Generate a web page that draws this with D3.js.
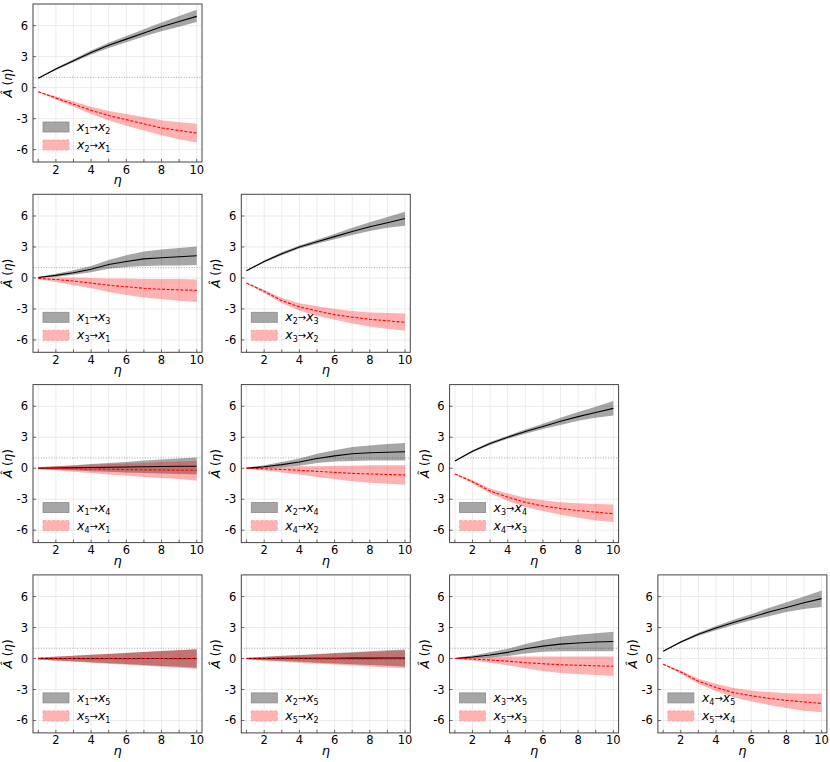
<!DOCTYPE html>
<html>
<head>
<meta charset="utf-8">
<script src="https://cdn.jsdelivr.net/npm/d3@7"></script>
<style>
  body { margin: 0; background: #fff; }
  text { font-family: "DejaVu Sans", sans-serif; }
</style>
</head>
<body>
<svg id="chart" width="830" height="762"></svg>
<script>
const etas = [1, 2, 3, 4, 5, 6, 7, 8, 9, 10];
const xTicks = [2, 4, 6, 8, 10];
const yTicks = [-6, -3, 0, 3, 6];
const yTickLabels = ["-6", "-3", "0", "3", "6"];

// panel x1-x2
const a12 = [0.9, 1.8, 2.6, 3.4, 4.1, 4.7, 5.3, 5.9, 6.4, 6.9];
const a12lo = [0.85, 1.7, 2.45, 3.2, 3.85, 4.4, 4.95, 5.45, 5.9, 6.35];
const a12hi = [0.95, 1.9, 2.75, 3.6, 4.35, 5.0, 5.65, 6.3, 6.95, 7.55];
const a21 = [-0.4, -1.0, -1.6, -2.2, -2.7, -3.1, -3.5, -3.9, -4.15, -4.4];
const a21lo = [-0.45, -1.15, -1.85, -2.55, -3.15, -3.7, -4.15, -4.6, -5.0, -5.3];
const a21hi = [-0.35, -0.85, -1.35, -1.85, -2.25, -2.55, -2.85, -3.15, -3.35, -3.5];

// panel x1-x3
const a13 = [0.05, 0.25, 0.5, 0.85, 1.3, 1.6, 1.85, 1.95, 2.05, 2.15];
const a13lo = [0, 0.1, 0.3, 0.55, 0.9, 1.05, 1.15, 1.2, 1.2, 1.25];
const a13hi = [0.1, 0.4, 0.75, 1.15, 1.75, 2.2, 2.55, 2.75, 2.9, 3.05];
const a31 = [-0.05, -0.15, -0.3, -0.5, -0.7, -0.85, -1.0, -1.1, -1.15, -1.2];
const a31lo = [-0.1, -0.4, -0.7, -1.0, -1.35, -1.65, -1.9, -2.05, -2.2, -2.3];
const a31hi = [0, 0.05, 0.05, 0, -0.05, -0.05, -0.1, -0.1, -0.1, -0.15];

// panel x2-x3
const a23 = [0.7, 1.6, 2.35, 3.0, 3.5, 4.0, 4.5, 4.95, 5.35, 5.75];
const a23lo = [0.65, 1.5, 2.2, 2.85, 3.3, 3.75, 4.15, 4.55, 4.85, 5.05];
const a23hi = [0.75, 1.7, 2.5, 3.15, 3.7, 4.25, 4.85, 5.4, 5.9, 6.4];
const a32 = [-0.5, -1.3, -2.2, -2.8, -3.2, -3.55, -3.8, -4.0, -4.15, -4.3];
const a32lo = [-0.55, -1.45, -2.45, -3.15, -3.65, -4.05, -4.4, -4.7, -4.95, -5.1];
const a32hi = [-0.45, -1.15, -1.95, -2.45, -2.75, -3.0, -3.2, -3.35, -3.4, -3.45];

// panel x1-x4
const a14 = [0, 0.02, 0.05, 0.07, 0.1, 0.12, 0.15, 0.17, 0.19, 0.2];
const a14lo = [-0.1, -0.15, -0.2, -0.3, -0.35, -0.4, -0.45, -0.5, -0.55, -0.6];
const a14hi = [0.1, 0.2, 0.3, 0.4, 0.5, 0.6, 0.75, 0.85, 0.95, 1.05];
const a41 = [0, -0.02, -0.05, -0.07, -0.1, -0.12, -0.15, -0.17, -0.19, -0.2];
const a41lo = [-0.1, -0.2, -0.35, -0.45, -0.6, -0.7, -0.85, -0.95, -1.05, -1.2];
const a41hi = [0.1, 0.2, 0.25, 0.35, 0.4, 0.45, 0.5, 0.6, 0.65, 0.7];

// panel x2-x4
const a24 = [0, 0.15, 0.35, 0.6, 0.95, 1.2, 1.4, 1.5, 1.55, 1.6];
const a24lo = [-0.05, 0, 0.1, 0.25, 0.5, 0.65, 0.7, 0.75, 0.75, 0.75];
const a24hi = [0.05, 0.3, 0.6, 0.95, 1.4, 1.75, 2.05, 2.2, 2.35, 2.45];
const a42 = [0, -0.05, -0.12, -0.2, -0.3, -0.4, -0.5, -0.55, -0.6, -0.65];
const a42lo = [-0.05, -0.2, -0.4, -0.6, -0.85, -1.05, -1.25, -1.4, -1.5, -1.6];
const a42hi = [0.05, 0.1, 0.15, 0.2, 0.2, 0.25, 0.25, 0.3, 0.3, 0.3];

// panel x3-x4
const a34 = [0.7, 1.65, 2.4, 3.0, 3.55, 4.05, 4.55, 5.0, 5.4, 5.8];
const a34lo = [0.65, 1.55, 2.25, 2.85, 3.35, 3.8, 4.2, 4.6, 4.9, 5.1];
const a34hi = [0.75, 1.75, 2.55, 3.15, 3.75, 4.3, 4.9, 5.45, 5.95, 6.5];
const a43 = [-0.55, -1.3, -2.2, -2.8, -3.3, -3.65, -3.9, -4.1, -4.25, -4.4];
const a43lo = [-0.6, -1.45, -2.45, -3.15, -3.75, -4.15, -4.5, -4.8, -5.05, -5.2];
const a43hi = [-0.5, -1.15, -1.95, -2.45, -2.85, -3.1, -3.3, -3.4, -3.45, -3.5];

// panel x1-x5
const a15 = [0, 0.01, 0, 0.01, 0, 0.01, 0, 0, 0.01, 0];
const a15lo = [-0.1, -0.18, -0.27, -0.36, -0.45, -0.54, -0.63, -0.72, -0.8, -0.88];
const a15hi = [0.1, 0.18, 0.27, 0.36, 0.45, 0.54, 0.63, 0.72, 0.8, 0.9];
const a51 = [0, -0.01, 0, -0.01, 0, -0.01, 0, 0, -0.01, 0];
const a51lo = [-0.1, -0.2, -0.3, -0.4, -0.5, -0.6, -0.7, -0.8, -0.9, -1.0];
const a51hi = [0.1, 0.19, 0.28, 0.37, 0.46, 0.55, 0.64, 0.73, 0.82, 0.9];

// panel x2-x5
const a25 = [0, 0.01, 0.02, 0.02, 0.03, 0.03, 0.04, 0.04, 0.05, 0.05];
const a25lo = [-0.08, -0.16, -0.24, -0.32, -0.4, -0.48, -0.55, -0.62, -0.7, -0.78];
const a25hi = [0.08, 0.17, 0.26, 0.35, 0.44, 0.53, 0.62, 0.7, 0.8, 0.88];
const a52 = [0, -0.01, -0.02, -0.02, -0.03, -0.03, -0.04, -0.04, -0.05, -0.05];
const a52lo = [-0.1, -0.2, -0.3, -0.4, -0.5, -0.58, -0.67, -0.76, -0.86, -0.95];
const a52hi = [0.08, 0.16, 0.24, 0.32, 0.4, 0.48, 0.56, 0.63, 0.7, 0.78];

// panel x3-x5
const a35 = [0, 0.15, 0.35, 0.6, 0.95, 1.2, 1.4, 1.5, 1.6, 1.65];
const a35lo = [-0.05, 0, 0.1, 0.25, 0.5, 0.65, 0.7, 0.7, 0.7, 0.7];
const a35hi = [0.05, 0.3, 0.6, 0.95, 1.4, 1.8, 2.1, 2.3, 2.45, 2.6];
const a53 = [0, -0.05, -0.15, -0.25, -0.4, -0.5, -0.6, -0.65, -0.7, -0.75];
const a53lo = [-0.05, -0.2, -0.4, -0.65, -0.95, -1.2, -1.4, -1.5, -1.6, -1.7];
const a53hi = [0.05, 0.1, 0.15, 0.2, 0.2, 0.2, 0.2, 0.2, 0.2, 0.2];

// panel x4-x5
const a45 = [0.7, 1.6, 2.35, 2.95, 3.5, 4.0, 4.5, 4.95, 5.4, 5.8];
const a45lo = [0.65, 1.5, 2.2, 2.75, 3.25, 3.7, 4.1, 4.5, 4.8, 5.0];
const a45hi = [0.75, 1.7, 2.5, 3.15, 3.75, 4.3, 4.9, 5.45, 6.0, 6.6];
const a54 = [-0.55, -1.3, -2.2, -2.8, -3.3, -3.6, -3.85, -4.05, -4.2, -4.35];
const a54lo = [-0.6, -1.45, -2.45, -3.15, -3.75, -4.15, -4.5, -4.8, -5.05, -5.2];
const a54hi = [-0.5, -1.15, -1.95, -2.45, -2.85, -3.1, -3.25, -3.35, -3.4, -3.4];

const panels = [
    { i: 1, j: 2, fwd: [a12, a12lo, a12hi], bwd: [a21, a21lo, a21hi] },
    { i: 1, j: 3, fwd: [a13, a13lo, a13hi], bwd: [a31, a31lo, a31hi] },
    { i: 2, j: 3, fwd: [a23, a23lo, a23hi], bwd: [a32, a32lo, a32hi] },
    { i: 1, j: 4, fwd: [a14, a14lo, a14hi], bwd: [a41, a41lo, a41hi] },
    { i: 2, j: 4, fwd: [a24, a24lo, a24hi], bwd: [a42, a42lo, a42hi] },
    { i: 3, j: 4, fwd: [a34, a34lo, a34hi], bwd: [a43, a43lo, a43hi] },
    { i: 1, j: 5, fwd: [a15, a15lo, a15hi], bwd: [a51, a51lo, a51hi] },
    { i: 2, j: 5, fwd: [a25, a25lo, a25hi], bwd: [a52, a52lo, a52hi] },
    { i: 3, j: 5, fwd: [a35, a35lo, a35hi], bwd: [a53, a53lo, a53hi] },
    { i: 4, j: 5, fwd: [a45, a45lo, a45hi], bwd: [a54, a54lo, a54hi] }
];

const plotW = 169, plotH = 158;
const colX = col => 33 + col * 208.3;
const rowY = row => 4 + row * 190.3;

const x = d3.scaleLinear().domain([0.7, 10.3]).range([0, plotW]);
const y = d3.scaleLinear().domain([-7.2, 8.1]).range([plotH, 0]);

const svg = d3.select("#chart");

const subLabel = (sel, a, b) => {
    sel.append("tspan").attr("font-style", "italic").text("x");
    sel.append("tspan").attr("font-size", 8).attr("dy", 3).text(a);
    sel.append("tspan").attr("dy", -3).attr("font-size", 10).text("→");
    sel.append("tspan").attr("font-style", "italic").text("x");
    sel.append("tspan").attr("font-size", 8).attr("dy", 3).text(b);
};

panels.forEach(p => {
    const g = svg.append("g")
        .attr("transform", `translate(${colX(p.i - 1)}, ${rowY(p.j - 2)})`);

    // grid
    g.selectAll(".vgrid")
        .data(etas)
        .join("line")
        .attr("class", "vgrid")
        .attr("x1", d => x(d)).attr("x2", d => x(d))
        .attr("y1", 0).attr("y2", plotH)
        .attr("stroke", "#e6e6e6").attr("stroke-width", 0.8);
    g.selectAll(".hgrid")
        .data(yTicks)
        .join("line")
        .attr("class", "hgrid")
        .attr("x1", 0).attr("x2", plotW)
        .attr("y1", d => y(d)).attr("y2", d => y(d))
        .attr("stroke", "#e6e6e6").attr("stroke-width", 0.8);

    // reference line at 1
    g.append("line")
        .attr("x1", 0).attr("x2", plotW)
        .attr("y1", y(1)).attr("y2", y(1))
        .attr("stroke", "#999").attr("stroke-width", 0.9)
        .attr("stroke-dasharray", "1 1.6");

    const area = d3.area()
        .x((_, k) => x(etas[k]))
        .y0(d => y(d[0]))
        .y1(d => y(d[1]));
    const line = d3.line()
        .x((_, k) => x(etas[k]))
        .y(d => y(d));

    g.append("path")
        .attr("d", area(etas.map((_, k) => [p.fwd[1][k], p.fwd[2][k]])))
        .attr("fill", "black").attr("fill-opacity", 0.35);
    g.append("path")
        .attr("d", area(etas.map((_, k) => [p.bwd[1][k], p.bwd[2][k]])))
        .attr("fill", "red").attr("fill-opacity", 0.3);
    g.append("path")
        .attr("d", line(p.fwd[0]))
        .attr("fill", "none").attr("stroke", "black").attr("stroke-width", 1.1);
    g.append("path")
        .attr("d", line(p.bwd[0]))
        .attr("fill", "none").attr("stroke", "red").attr("stroke-width", 1.1)
        .attr("stroke-dasharray", "3 1.6");

    // frame
    g.append("rect")
        .attr("width", plotW).attr("height", plotH)
        .attr("fill", "none").attr("stroke", "#444").attr("stroke-width", 1);

    // ticks (inward)
    g.selectAll(".xtick")
        .data(etas)
        .join("line")
        .attr("class", "xtick")
        .attr("x1", d => x(d)).attr("x2", d => x(d))
        .attr("y1", plotH).attr("y2", plotH - 3)
        .attr("stroke", "#444").attr("stroke-width", 0.8);
    g.selectAll(".ytick")
        .data(yTicks)
        .join("line")
        .attr("class", "ytick")
        .attr("x1", 0).attr("x2", 3)
        .attr("y1", d => y(d)).attr("y2", d => y(d))
        .attr("stroke", "#444").attr("stroke-width", 0.8);

    g.selectAll(".xlab")
        .data(xTicks)
        .join("text")
        .attr("class", "xlab")
        .attr("x", d => x(d)).attr("y", plotH + 11.5)
        .attr("text-anchor", "middle")
        .attr("font-size", 11.5)
        .text(d => d);
    g.selectAll(".ylab")
        .data(yTicks)
        .join("text")
        .attr("class", "ylab")
        .attr("x", -5).attr("y", d => y(d))
        .attr("text-anchor", "end")
        .attr("dominant-baseline", "central")
        .attr("font-size", 11.5)
        .text((_, k) => yTickLabels[k]);

    g.append("text")
        .attr("x", plotW / 2).attr("y", plotH + 22)
        .attr("text-anchor", "middle")
        .attr("font-size", 13)
        .attr("font-style", "italic")
        .text("η");

    const yl = g.append("text")
        .attr("transform", `translate(-21, ${plotH / 2}) rotate(-90)`)
        .attr("text-anchor", "middle")
        .attr("font-size", 12);
    yl.append("tspan").attr("font-style", "italic").text("Â");
    yl.append("tspan").text(" (");
    yl.append("tspan").attr("font-style", "italic").text("η");
    yl.append("tspan").text(")");

    // legend
    const lg = g.append("g").attr("transform", "translate(10, 118)");
    lg.append("rect")
        .attr("width", 26).attr("height", 10)
        .attr("fill", "#a6a6a6").attr("stroke", "#8c8c8c").attr("stroke-width", 0.8);
    lg.append("rect")
        .attr("y", 18).attr("width", 26).attr("height", 10)
        .attr("fill", "#ffb3b3").attr("stroke", "#ff9999").attr("stroke-width", 0.8)
        .attr("stroke-dasharray", "3 1.6");
    subLabel(lg.append("text").attr("x", 34).attr("y", 9).attr("font-size", 12.5), p.i, p.j);
    subLabel(lg.append("text").attr("x", 34).attr("y", 27).attr("font-size", 12.5), p.j, p.i);
});
</script>
</body>
</html>
